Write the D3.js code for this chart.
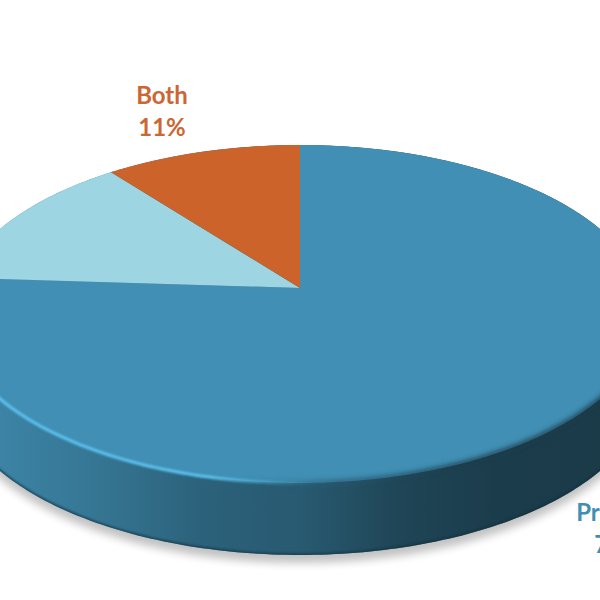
<!DOCTYPE html>
<html><head><meta charset="utf-8">
<script src="https://cdn.jsdelivr.net/npm/d3@7"></script>
<style>html,body{margin:0;padding:0;background:#fff}svg{display:block}</style>
</head><body><svg id="c" width="600" height="600"></svg>
<script>
const categories = ["Primary", "", "Both"];
const percentValues = [76, 13.4, 10.6];
const sliceColors = ["#418fb4", "#9dd6e2", "#cb632b"];

const svg = d3.select("#c");
const apexX = 300, apexY = 288, A = 342.9, B = 165, k = 0.1538, depth = 72;
const project = t => {
  const u = Math.sin(t), v = -Math.cos(t), w = 1 - k * v;
  return [apexX + A * u / w, apexY + B * v / w];
};
const arcs = d3.pie().sort(null)(percentValues);
const line = d3.line();
const steps = d3.range(0, 361).map(d => d * Math.PI / 180);
const rim = steps.map(project);
const rimBottom = rim.map(p => [p[0], p[1] + depth]);
const wallHull = d3.polygonHull(rim.concat(rimBottom));

const defs = svg.append("defs");
const blur = (id, s) => defs.append("filter").attr("id", id)
  .attr("x", "-20%").attr("y", "-20%").attr("width", "140%").attr("height", "140%")
  .append("feGaussianBlur").attr("stdDeviation", s);
blur("b1", 1.3); blur("b2", 2.4); blur("b3", 4.5);
const grad = (id, stops) => {
  const g = defs.append("linearGradient").attr("id", id)
    .attr("gradientUnits", "userSpaceOnUse")
    .attr("x1", 0).attr("x2", 600).attr("y1", 0).attr("y2", 0);
  stops.forEach(s => g.append("stop").attr("offset", s[0]).attr("stop-color", s[1]).attr("stop-opacity", s[2] ?? 1));
};
grad("wall", [[0, "#3c83a5"], [.17, "#357592"], [.33, "#2c627b"], [.5, "#285a71"], [.67, "#1f4556"], [.83, "#1b3c4b"], [1, "#1b3b49"]]);
grad("hi", [[0, "#5cc4f2", 1], [.35, "#5cc4f2", 1], [.45, "#5cc4f2", .4], [.55, "#418fb4", 0], [1, "#418fb4", 0]]);
grad("lo", [[0, "#2c627b", 0], [.4, "#2c627b", 0], [.55, "#285a71", .9], [.75, "#1b3c4b", 1], [1, "#1b3b49", 1]]);
defs.append("clipPath").attr("id", "wallClip").append("path").attr("d", line(wallHull) + "Z");

// soft shadow under the pie
svg.append("path").attr("d", line(wallHull) + "Z")
  .attr("transform", "translate(0,8)").attr("fill", "#000").attr("opacity", .24).attr("filter", "url(#b3)");
// side wall
svg.append("path").attr("d", line(wallHull) + "Z").attr("fill", "url(#wall)");
svg.append("g").attr("clip-path", "url(#wallClip)").append("path")
  .attr("d", line(rimBottom) + "Z").attr("fill", "none").attr("stroke", "#12303e").attr("stroke-width", 3)
  .attr("opacity", .7).attr("filter", "url(#b1)");
// top face
const slices = svg.append("g");
slices.selectAll("path").data(arcs).join("path")
  .attr("fill", (d, i) => sliceColors[i])
  .attr("d", d => {
    const n = Math.ceil((d.endAngle - d.startAngle) * 90);
    const pts = d3.range(n + 1).map(i => project(d.startAngle + (d.endAngle - d.startAngle) * i / n));
    return line([[apexX, apexY], ...pts]) + "Z";
  });
// bevel on the lower rim: bright on the left, soft dark on the right
const lowerRim = steps.filter(t => Math.cos(t) < -0.05).map(project).sort((a, b) => a[0] - b[0]);
svg.append("path").attr("d", line(lowerRim))
  .attr("fill", "none").attr("stroke", "url(#lo)").attr("stroke-width", 4).attr("filter", "url(#b2)");
svg.append("path").attr("d", line(lowerRim))
  .attr("fill", "none").attr("stroke", "url(#hi)").attr("stroke-width", 3).attr("filter", "url(#b1)");

// labels
const labels = [
  { i: 2, x: 162, y: 104, color: "#cc6633" },
  { i: 0, x: 618, y: 521, color: "#418fb4" }
];
labels.forEach(l => {
  const t = svg.append("text").attr("text-anchor", "middle").attr("fill", l.color)
    .attr("font-family", "Lato, 'Open Sans', sans-serif").attr("font-weight", 700).attr("font-size", 24);
  t.append("tspan").attr("x", l.x).attr("y", l.y).text(categories[l.i]);
  t.append("tspan").attr("x", l.x).attr("y", l.y + 32).text(Math.round(percentValues[l.i]) + "%");
});
</script></body></html>
